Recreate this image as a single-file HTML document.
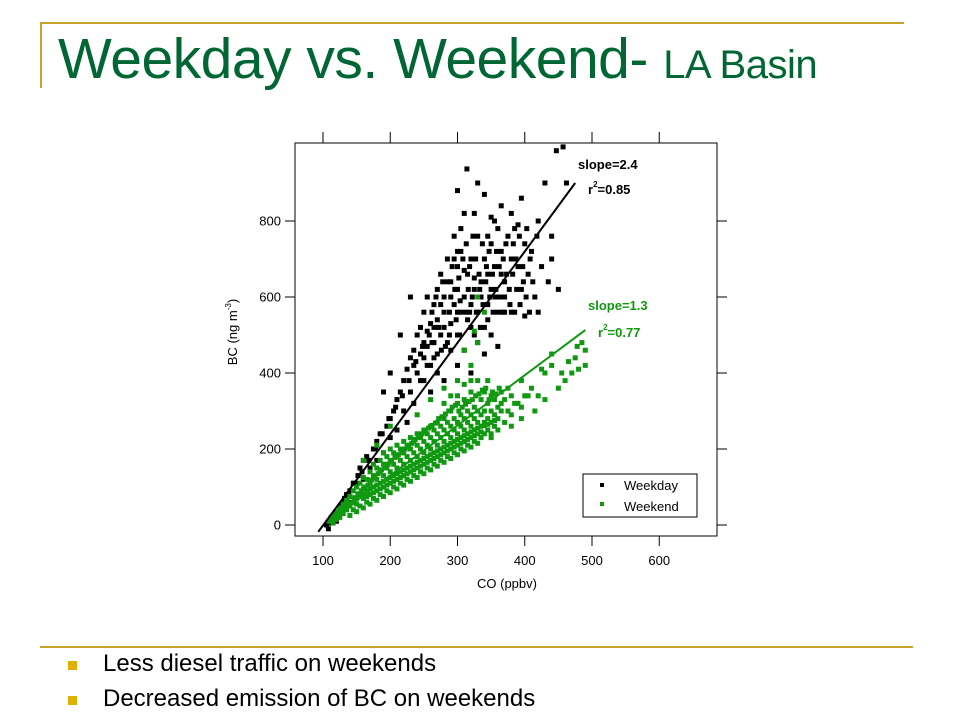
<!DOCTYPE html>
<html><head><meta charset="utf-8"><style>
body{margin:0;background:#fff;width:960px;height:720px;overflow:hidden;position:relative;font-family:"Liberation Sans",Arial,sans-serif}
.abs{position:absolute}
</style></head><body>
<div class="abs" style="left:40px;top:22px;width:864px;height:2px;background:#c9a22a"></div>
<div class="abs" style="left:40px;top:22px;width:2px;height:66px;background:#c9a22a"></div>
<div class="abs" style="left:58px;top:26px;color:#006633;font-size:57px;white-space:nowrap;letter-spacing:-0.5px">Weekday vs. Weekend- <span style="font-size:40px">LA Basin</span></div>
<svg class="abs" style="left:0;top:0" width="960" height="720">
<g id="axes"></g><g id="pts"></g><g id="fits"></g>
<text x="578" y="169" font-size="13" font-weight="bold" fill="#000">slope=2.4</text>
<text x="588" y="194" font-size="13" font-weight="bold" fill="#000">r<tspan dy="-7" font-size="8">2</tspan><tspan dy="7">=0.85</tspan></text>
<text x="588" y="310" font-size="13" font-weight="bold" fill="#109910">slope=1.3</text>
<text x="598" y="337" font-size="13" font-weight="bold" fill="#109910">r<tspan dy="-7" font-size="8">2</tspan><tspan dy="7">=0.77</tspan></text>
<g>
<rect x="583" y="474" width="114" height="43" fill="#fff" stroke="#000" stroke-width="1"/>
<rect x="600" y="483" width="4" height="4" fill="#000"/>
<text x="624" y="490" font-size="13">Weekday</text>
<rect x="600" y="502" width="4" height="4" fill="#109910"/>
<text x="624" y="511" font-size="13">Weekend</text>
</g>
<text x="507" y="588" font-size="13" text-anchor="middle">CO (ppbv)</text>
<text transform="translate(237,332) rotate(-90)" font-size="13" text-anchor="middle">BC (ng m<tspan dy="-6" font-size="8">-3</tspan><tspan dy="6">)</tspan></text>
</svg>
<div class="abs" style="left:40px;top:646px;width:873px;height:2px;background:#c9a22a"></div>
<div class="abs" style="left:68px;top:661px;width:9px;height:9px;background:#e0b000"></div>
<div class="abs" style="left:103px;top:650px;font-size:24px;color:#000">Less diesel traffic on weekends</div>
<div class="abs" style="left:68px;top:696px;width:9px;height:9px;background:#e0b000"></div>
<div class="abs" style="left:103px;top:685px;font-size:24px;color:#000">Decreased emission of BC on weekends</div>
<script>
const xTicks=[100,200,300,400,500,600];
const yTicks=[0,200,400,600,800];
const weekday=[[105,0],[108,-10],[110,5],[112,15],[115,20],[118,30],[120,10],[125,40],[130,60],[128,50],[135,80],[140,90],[140,60],[145,110],[150,100],[152,130],[155,150],[160,120],[160,170],[165,180],[170,150],[175,200],[180,220],[180,170],[185,240],[190,190],[195,260],[200,230],[200,280],[205,300],[210,250],[210,330],[215,350],[220,300],[220,380],[225,270],[225,410],[230,350],[230,440],[235,320],[235,460],[240,400],[240,500],[245,380],[245,520],[250,440],[250,560],[255,470],[255,600],[260,420],[260,530],[265,580],[265,480],[270,620],[270,450],[270,540],[275,500],[275,660],[280,560],[280,600],[285,480],[285,700],[290,530],[290,640],[295,580],[295,760],[300,500],[300,620],[300,680],[305,560],[305,720],[310,600],[310,820],[315,540],[315,660],[320,580],[320,700],[325,620],[325,500],[330,560],[330,760],[335,640],[335,600],[340,520],[340,700],[345,660],[345,580],[350,740],[350,620],[355,680],[360,560],[360,780],[365,720],[370,640],[370,600],[375,760],[380,700],[385,560],[385,780],[390,680],[395,620],[400,740],[405,660],[410,720],[415,600],[420,800],[420,560],[440,760],[447,985],[457,995],[462,900],[230,600],[215,500],[200,400],[190,350],[320,400],[340,450],[300,420],[280,380],[260,350],[250,380],[350,500],[310,460],[290,460],[270,400],[330,480],[360,470],[400,550],[440,700],[450,620],[380,560],[300,880],[314,937],[340,870],[350,810],[395,860],[430,900],[310,670],[290,600],[325,650],[345,540],[365,660],[280,520],[265,440],[255,420],[320,520],[300,560],
[235,420],[245,450],[255,510],[262,560],[268,600],[272,520],[278,640],[282,470],[288,560],[292,680],[296,620],[298,540],[302,650],[304,590],[308,700],[312,560],[313,740],[316,620],[318,680],[322,600],[323,760],[327,700],[328,560],[332,660],[333,620],[337,740],[338,580],[342,640],[343,680],[347,720],[348,600],[352,660],[353,560],[357,620],[358,720],[362,680],[363,600],[367,560],[368,700],[372,740],[373,660],[377,620],[378,580],[382,660],[383,740],[387,700],[388,620],[392,760],[393,580],[397,680],[398,640],[402,600],[403,780],[407,560],[408,700],[412,640],[418,760],[425,680],[435,640],[300,720],[305,780],[295,700],[285,640],[275,580],[265,520],[258,500],[248,470],[238,430],[228,380],[218,340],[208,310],[198,280],[188,240],[178,200],[168,170],[158,140],[148,110],[138,80],[132,70],[122,30],[250,480],[262,480],[276,460],[288,500],[303,500],[318,560],[334,520],[356,600],[370,560],[355,800],[365,840],[380,820],[390,790],[325,820],[330,900],[345,760]];
const weekend=[[110,10],[112,20],[115,5],[118,25],[120,15],[120,35],[125,20],[125,45],[130,30],[130,55],[135,40],[135,65],[140,25],[140,50],[140,75],[145,40],[145,60],[145,90],[150,35],[150,70],[150,100],[155,50],[155,80],[155,110],[160,45],[160,70],[160,95],[160,125],[165,60],[165,90],[165,120],[170,55],[170,80],[170,110],[170,140],[175,70],[175,100],[175,130],[175,160],[180,65],[180,90],[180,120],[180,150],[185,80],[185,110],[185,140],[185,170],[190,75],[190,100],[190,130],[190,160],[190,190],[195,90],[195,120],[195,150],[195,180],[200,85],[200,110],[200,140],[200,170],[200,200],[205,100],[205,130],[205,160],[205,190],[210,95],[210,120],[210,150],[210,180],[210,210],[215,110],[215,140],[215,170],[215,200],[220,105],[220,130],[220,160],[220,190],[220,220],[225,120],[225,150],[225,180],[225,210],[230,115],[230,140],[230,170],[230,200],[230,230],[235,130],[235,160],[235,190],[235,220],[240,125],[240,150],[240,180],[240,210],[240,240],[245,140],[245,170],[245,200],[245,230],[250,135],[250,160],[250,190],[250,220],[250,250],[255,150],[255,180],[255,210],[255,240],[260,145],[260,170],[260,200],[260,230],[260,260],[265,160],[265,190],[265,220],[265,250],[270,155],[270,180],[270,210],[270,240],[270,270],[275,170],[275,200],[275,230],[275,260],[280,165],[280,190],[280,220],[280,250],[280,280],[285,180],[285,210],[285,240],[285,270],[290,175],[290,200],[290,230],[290,260],[290,300],[295,190],[295,220],[295,250],[295,280],[300,185],[300,210],[300,240],[300,270],[300,320],[305,200],[305,230],[305,260],[305,290],[310,195],[310,220],[310,250],[310,280],[310,330],[315,210],[315,240],[315,270],[315,300],[320,205],[320,230],[320,260],[320,290],[320,350],[325,220],[325,250],[325,280],[325,310],[330,215],[330,240],[330,270],[330,300],[330,380],[335,230],[335,260],[335,290],[335,330],[340,240],[340,270],[340,300],[340,350],[345,250],[345,280],[345,320],[350,240],[350,270],[350,300],[350,340],[355,260],[355,290],[355,330],[360,250],[360,280],[360,310],[365,300],[370,270],[370,330],[375,300],[380,290],[380,340],[390,320],[395,310],[400,340],[410,360],[420,340],[430,400],[440,420],[450,360],[460,380],[470,400],[475,440],[480,410],[490,420],[485,480],[430,330],[350,230],[380,260],[320,420],[330,480],[310,460],[340,560],[300,380],[280,360],[260,330],[240,290],[200,260],[180,210],[160,170],[330,600],[325,510],[395,280],[345,380],[365,350],
[112,10],[117,18],[122,28],[127,35],[132,42],[137,52],[142,58],[147,72],[152,82],[157,90],[162,100],[167,105],[172,118],[177,125],[182,135],[187,145],[192,150],[197,160],[202,168],[207,178],[212,185],[217,190],[222,200],[227,205],[232,215],[237,225],[242,230],[247,240],[252,245],[257,255],[262,262],[267,268],[272,280],[277,285],[282,292],[287,300],[292,310],[297,315],[302,300],[307,310],[312,318],[317,325],[322,330],[327,340],[332,345],[337,355],[342,360],[347,330],[352,350],[357,345],[362,360],[150,55],[160,80],[170,95],[180,105],[190,115],[200,125],[210,135],[220,145],[230,155],[240,165],[250,175],[260,185],[270,195],[280,205],[290,215],[300,225],[310,235],[320,245],[330,255],[340,262],[165,75],[175,85],[185,95],[195,105],[205,115],[215,125],[225,135],[235,145],[245,155],[255,165],[265,175],[275,185],[285,195],[295,205],[305,215],[315,225],[325,235],[335,245],[345,265],[355,275],[365,320],[375,360],[385,320],[395,380],[405,340],[415,300],[425,410],[440,450],[455,400],[465,430],[478,470],[490,460],[300,340],[310,370],[320,380],[290,340],[280,320]];
const weekdayFit=[[93,-18],[475,900]];
const weekendFit=[[115,18],[490,513]];
const X=v=>323+(v-100)*0.6725, Y=v=>525-v*0.38;
const NS='http://www.w3.org/2000/svg';
function mk(t,a,p){const e=document.createElementNS(NS,t);for(const k in a)e.setAttribute(k,a[k]);p.appendChild(e);return e;}
const ax=document.getElementById('axes');
const frame=mk('rect',{x:295,y:143,width:422,height:393,fill:'none',stroke:'#000','stroke-width':1},ax);


xTicks.forEach(v=>{
 mk('line',{x1:X(v),x2:X(v),y1:536,y2:546,stroke:'#000'},ax);
 mk('line',{x1:X(v),x2:X(v),y1:143,y2:132,stroke:'#000'},ax);
 const t=mk('text',{x:X(v),y:565,'font-size':13,'text-anchor':'middle'},ax);t.textContent=v;
 
 
});
yTicks.forEach(v=>{
 mk('line',{x1:285,x2:295,y1:Y(v),y2:Y(v),stroke:'#000'},ax);
 mk('line',{x1:717,x2:727,y1:Y(v),y2:Y(v),stroke:'#000'},ax);
 const t=mk('text',{x:281,y:Y(v)+4.5,'font-size':13,'text-anchor':'end'},ax);t.textContent=v;
 
 
});
const pg=document.getElementById('pts');
function pts(arr,col,name){arr.forEach(d=>{const r=mk('rect',{x:X(d[0])-2.5,y:Y(d[1])-2.5,width:5,height:5,fill:col},pg);
 
 });}
pts(weekday,'#000','weekday-point');
pts(weekend,'#109910','weekend-point');
const fg=document.getElementById('fits');
const l1=mk('line',{x1:X(weekdayFit[0][0]),y1:Y(weekdayFit[0][1]),x2:X(weekdayFit[1][0]),y2:Y(weekdayFit[1][1]),stroke:'#000','stroke-width':2},fg);


const l2=mk('line',{x1:X(weekendFit[0][0]),y1:Y(weekendFit[0][1]),x2:X(weekendFit[1][0]),y2:Y(weekendFit[1][1]),stroke:'#109910','stroke-width':2},fg);


</script>
</body></html>
